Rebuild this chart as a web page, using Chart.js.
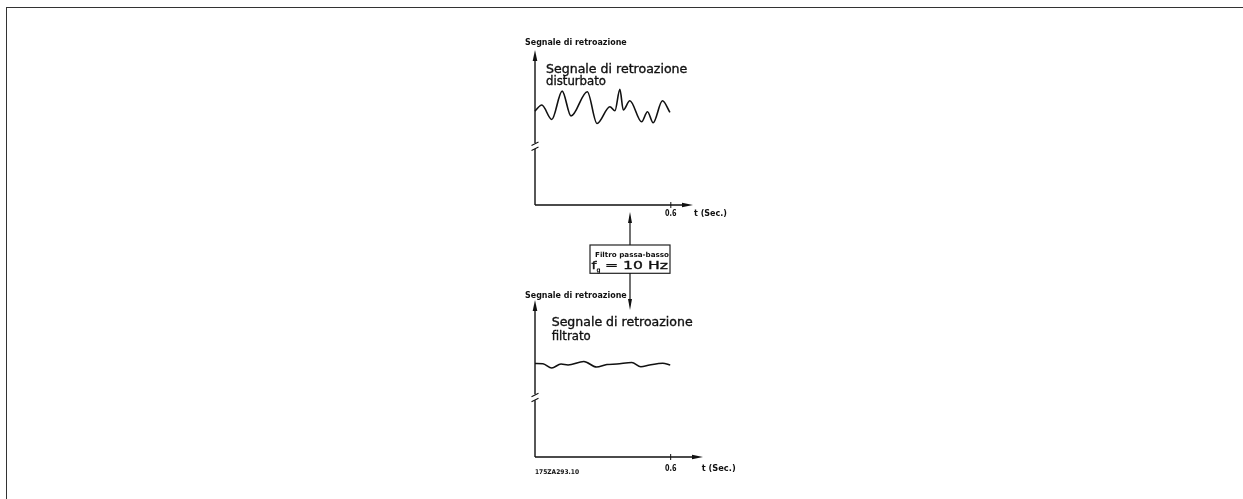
<!DOCTYPE html>
<html>
<head>
<meta charset="utf-8">
<script src="https://cdn.jsdelivr.net/npm/chart.js@4/dist/chart.umd.min.js"></script>
<style>
  html, body { margin: 0; padding: 0; background: #fff; }
  #wrap { position: relative; width: 1243px; height: 499px; overflow: hidden; }
  canvas, svg { position: absolute; left: 0; top: 0; }
  svg text { font-family: "DejaVu Sans", sans-serif; fill: #111; }
  .small { font-size: 8px; font-weight: bold; }
  .big { font-size: 12px; stroke: #111; stroke-width: 0.35px; }
</style>
</head>
<body>
<div id="wrap">
  <canvas id="topChart" width="1243" height="499"></canvas>
  <canvas id="bottomChart" width="1243" height="499"></canvas>
  <svg id="overlay" width="1243" height="499" xmlns="http://www.w3.org/2000/svg">
    <line x1="6" y1="7.5" x2="1243" y2="7.5" stroke="#333" stroke-width="1"/>
    <line x1="6.5" y1="7" x2="6.5" y2="499" stroke="#333" stroke-width="1"/>

    <text class="small" x="525" y="45" textLength="101.7" lengthAdjust="spacingAndGlyphs">Segnale di retroazione</text>
    <text class="big" x="546" y="73.3" textLength="141.3" lengthAdjust="spacingAndGlyphs">Segnale di retroazione</text>
    <text class="big" x="546" y="85" textLength="60" lengthAdjust="spacingAndGlyphs">disturbato</text>
    <text class="small tick-top" x="671" y="216" text-anchor="middle" style="font-size:9px" textLength="11.5" lengthAdjust="spacingAndGlyphs">0.6</text>
    <text class="small" x="694" y="216" style="font-size:9px" textLength="33" lengthAdjust="spacingAndGlyphs">t (Sec.)</text>

    <line x1="630" y1="245" x2="630" y2="220" stroke="#111" stroke-width="1.2"/>
    <polygon points="630,212 628,223 632,223" fill="#111"/>
    <rect x="590" y="245" width="80" height="28.3" fill="none" stroke="#222" stroke-width="1.2"/>
    <text class="small" x="595" y="257" style="font-size:7px" textLength="74" lengthAdjust="spacingAndGlyphs">Filtro passa-basso</text>
    <text x="591.5" y="268.8" style="font-size:11px;stroke:#111;stroke-width:0.35px" textLength="5" lengthAdjust="spacingAndGlyphs">f</text>
    <text x="596.5" y="271.5" style="font-size:6.5px;font-weight:bold" textLength="4" lengthAdjust="spacingAndGlyphs">g</text>
    <text x="605" y="268.8" style="font-size:11px;stroke:#111;stroke-width:0.35px" textLength="63" lengthAdjust="spacingAndGlyphs">=  10  Hz</text>
    <line x1="630" y1="273" x2="630" y2="302" stroke="#111" stroke-width="1.2"/>
    <polygon points="630,310 628,299 632,299" fill="#111"/>

    <text class="small" x="525" y="297.6" textLength="101.7" lengthAdjust="spacingAndGlyphs">Segnale di retroazione</text>
    <text class="big" x="551.7" y="326" textLength="141" lengthAdjust="spacingAndGlyphs">Segnale di retroazione</text>
    <text class="big" x="551.7" y="340" textLength="39" lengthAdjust="spacingAndGlyphs">filtrato</text>
    <text class="small tick-bottom" x="671" y="471.3" text-anchor="middle" style="font-size:9px" textLength="11.5" lengthAdjust="spacingAndGlyphs">0.6</text>
    <text class="small" x="701.7" y="471.3" style="font-size:9px" textLength="34" lengthAdjust="spacingAndGlyphs">t (Sec.)</text>
    <text class="small" x="535" y="474.3" style="font-size:6.5px" textLength="44" lengthAdjust="spacingAndGlyphs">175ZA293.10</text>
  </svg>
</div>
<script>
// time (s) and signal level (0..10 of the y axis)
const topTimes = [0, 0.030, 0.074, 0.120, 0.159, 0.231, 0.274, 0.331, 0.353, 0.375, 0.390, 0.419, 0.471, 0.497, 0.522, 0.563, 0.596];
const topValues = [6.06, 6.45, 5.52, 7.35, 5.74, 7.31, 5.26, 6.34, 6.08, 7.46, 6.13, 6.73, 5.37, 6.02, 5.31, 6.73, 5.98];

const bottomTimes = [0, 0.035, 0.074, 0.115, 0.146, 0.216, 0.272, 0.318, 0.362, 0.428, 0.468, 0.507, 0.565, 0.598];
const bottomValues = [5.96, 5.94, 5.67, 5.92, 5.86, 6.08, 5.73, 5.89, 5.92, 6.02, 5.75, 5.86, 5.97, 5.86];

const tickValues = [0.6];
const tickLabels = ['0.6'];
const breakLevel = 3.8;

const sketchAxes = {
    id: 'sketchAxes',
    afterDatasetsDraw(chart) {
        const ctx = chart.ctx;
        const a = chart.chartArea;
        const x0 = chart.scales.x.getPixelForValue(0);
        const y0 = chart.scales.y.getPixelForValue(0);
        const yb = chart.scales.y.getPixelForValue(breakLevel);
        ctx.save();
        ctx.strokeStyle = '#111';
        ctx.fillStyle = '#111';
        ctx.lineWidth = 1.4;
        ctx.beginPath();
        // y axis with break
        ctx.moveTo(x0, y0);
        ctx.lineTo(x0, yb + 3);
        ctx.moveTo(x0, yb - 3);
        ctx.lineTo(x0, a.top + 8);
        // x axis
        ctx.moveTo(x0, y0);
        ctx.lineTo(a.right - 8, y0);
        ctx.stroke();
        // break slashes
        ctx.lineWidth = 1.1;
        ctx.beginPath();
        ctx.moveTo(x0 - 3.5, yb - 0.5);
        ctx.lineTo(x0 + 3.5, yb - 4);
        ctx.moveTo(x0 - 3.5, yb + 4.5);
        ctx.lineTo(x0 + 3.5, yb + 1);
        ctx.stroke();
        // arrow heads
        ctx.beginPath();
        ctx.moveTo(x0, a.top);
        ctx.lineTo(x0 - 2.3, a.top + 11);
        ctx.lineTo(x0 + 2.3, a.top + 11);
        ctx.closePath();
        ctx.fill();
        ctx.beginPath();
        ctx.moveTo(a.right, y0);
        ctx.lineTo(a.right - 11, y0 - 2.3);
        ctx.lineTo(a.right - 11, y0 + 2.3);
        ctx.closePath();
        ctx.fill();
        // ticks
        ctx.lineWidth = 1;
        tickValues.forEach(v => {
            const px = chart.scales.x.getPixelForValue(v);
            ctx.beginPath();
            ctx.moveTo(px, y0 - 3);
            ctx.lineTo(px, y0 + 3);
            ctx.stroke();
        });
        ctx.restore();
    }
};

function makeChart(id, times, values, xMax, padding) {
    return new Chart(document.getElementById(id), {
        type: 'line',
        data: {
            datasets: [{
                data: times.map((t, i) => ({ x: t, y: values[i] })),
                borderColor: '#111',
                borderWidth: 1.6,
                pointRadius: 0,
                cubicInterpolationMode: 'monotone',
                fill: false,
                clip: false
            }]
        },
        options: {
            responsive: false,
            animation: false,
            events: [],
            layout: { padding: padding },
            plugins: { legend: { display: false }, tooltip: { enabled: false } },
            scales: {
                x: { type: 'linear', min: 0, max: xMax, display: false },
                y: { type: 'linear', min: 0, max: 10, display: false }
            }
        },
        plugins: [sketchAxes]
    });
}

const topChart = makeChart('topChart', topTimes, topValues, 0.698, { left: 535, right: 550, top: 50, bottom: 294 });
const bottomChart = makeChart('bottomChart', bottomTimes, bottomValues, 0.743, { left: 535, right: 540, top: 300, bottom: 42 });

// place tick labels from the scales
[[topChart, '.tick-top'], [bottomChart, '.tick-bottom']].forEach(([c, sel]) => {
    const el = document.querySelector(sel);
    el.setAttribute('x', c.scales.x.getPixelForValue(tickValues[0]));
    el.textContent = tickLabels[0];
});
</script>
</body>
</html>
